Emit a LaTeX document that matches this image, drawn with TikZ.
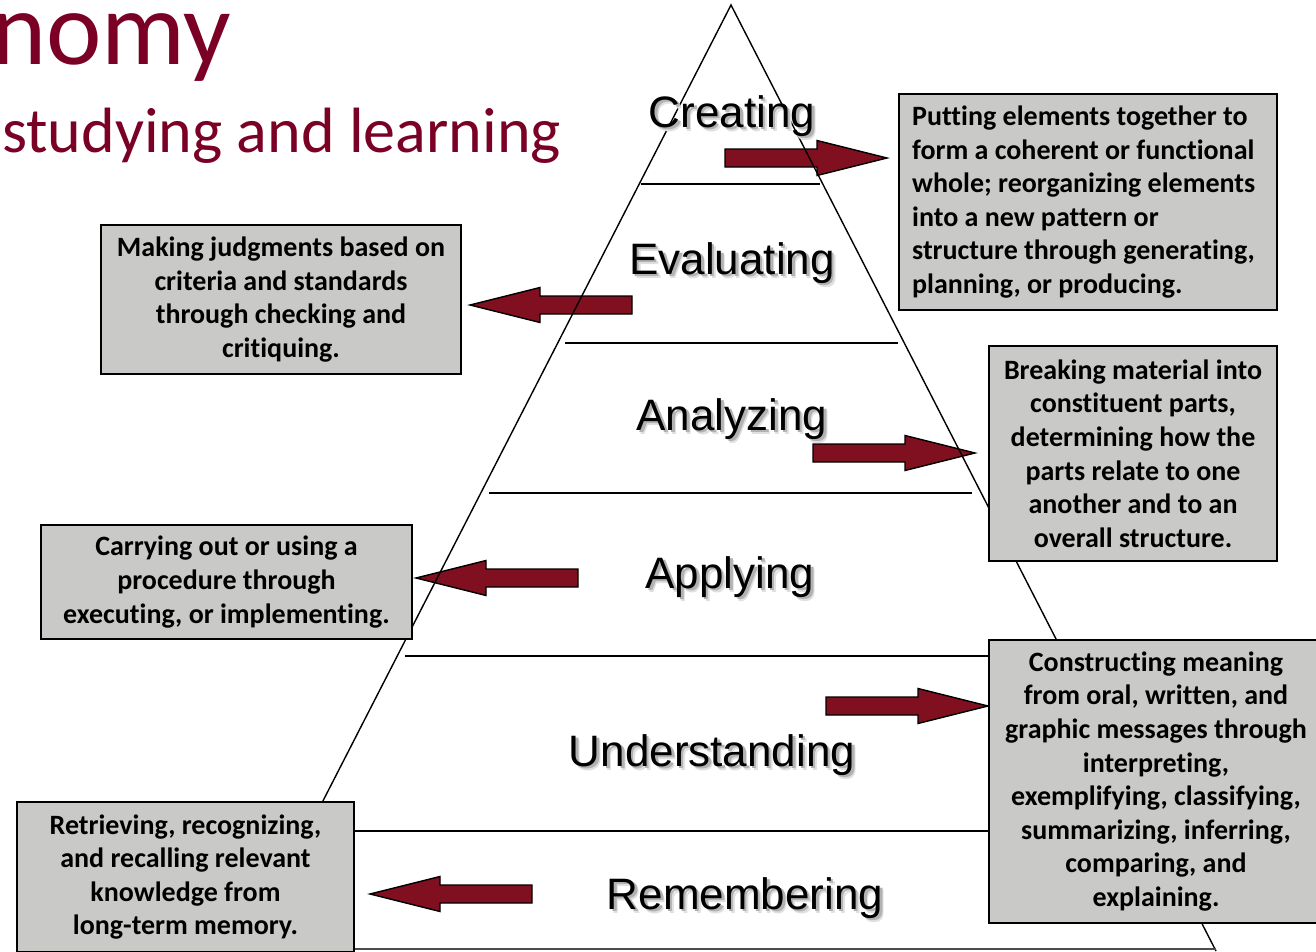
\documentclass[tikz,border=0pt]{standalone}
\usepackage{fontspec}
\setmainfont{Carlito}[Ligatures=NoCommon]
\newfontfamily\levelfont{Liberation Sans}
\definecolor{titlered}{RGB}{122,0,38}
\definecolor{arrowred}{RGB}{128,15,31}
\definecolor{boxgray}{RGB}{201,202,200}
\begin{document}
\begin{tikzpicture}[x=1pt,y=-1pt,
  edge/.style={line width=1.4pt, black},
  descbox/.style={draw=black, line width=1.6pt, fill=boxgray, inner xsep=0pt,
    inner ysep=0pt, font=\fontsize{28}{33.6}\selectfont\bfseries, align=center},
  level/.style={font=\levelfont\fontsize{44}{44}\selectfont, anchor=base, inner sep=0pt},
  levelshade/.style={level, text=black!30},
  levelhaze/.style={level, text=black!12},
  barrow/.pic={\draw[line width=1.4pt, fill=arrowred, line join=miter]
    (0,-9) -- (92,-9) -- (92,-17.5) -- (162,0) -- (92,17.5) -- (92,9) -- (0,9) -- cycle;}
]
\useasboundingbox (0,0) rectangle (1316,951);
\clip (0,0) rectangle (1316,951);
\fill[white] (0,0) rectangle (1316,951);

% title fragments
\node[anchor=base west, inner sep=0pt, font=\fontsize{105}{105}\selectfont, text=titlered] (title) at (-9,64) {nomy};
\node[anchor=base west, inner sep=0pt, font=\fontsize{64}{64}\selectfont, text=titlered] (subtitle) at (2,152) {studying and learning};

% block arrows pointing at the descriptions
\pic at (725,158) {barrow};
\pic[xscale=-1] at (632,305) {barrow};
\pic at (813,453) {barrow};
\pic[xscale=-1] at (578,578) {barrow};
\pic at (826,706) {barrow};
\pic[xscale=-1] at (532,894) {barrow};

% pyramid outline and level dividers
\coordinate (apex) at (731,5);
\coordinate (baseL) at (246,951);
\coordinate (baseR) at (1216,951);
\draw[edge] (baseL) -- (apex) -- (baseR);
\coordinate (d1a) at (641,184); \coordinate (d1b) at (820,184);
\coordinate (d2a) at (565,343); \coordinate (d2b) at (898,343);
\coordinate (d3a) at (489,493); \coordinate (d3b) at (972,493);
\coordinate (d4a) at (405,656); \coordinate (d4b) at (1064,656);
\coordinate (d5a) at (308,831); \coordinate (d5b) at (1155,831);
\coordinate (d6a) at (247,949); \coordinate (d6b) at (1216,949);
\draw[edge] (d1a) -- (d1b);
\draw[edge] (d2a) -- (d2b);
\draw[edge] (d3a) -- (d3b);
\draw[edge] (d4a) -- (d4b);
\draw[edge] (d5a) -- (d5b);
\draw[edge, black!70] (d6a) -- (d6b);

% level names with soft drop shadow
\foreach \nm/\x/\y/\t in {creating/732/127/Creating, evaluating/732/274/Evaluating,
    analyzing/732/430/Analyzing, applying/730/588/Applying,
    understanding/712/766/Understanding, remembering/745/909/Remembering}{
  \node[levelhaze] (\nm-haze) at (\x+4,\y+4) {\t};
  \node[levelshade] (\nm-shade) at (\x+2.5,\y+2.5) {\t};
  \node[level] (\nm) at (\x,\y) {\t};
}

% description boxes
\node[descbox, align=left, minimum width=378pt, minimum height=216pt] (createbox) at (1088,202)
  {Putting elements together to\\ form a coherent or functional\\ whole; reorganizing elements\\
   into a new pattern or\\ structure through generating,\rule{9pt}{0pt}\\ planning, or producing.};
\node[descbox, minimum width=360pt, minimum height=149pt] (evalbox) at (281,299.5)
  {Making judgments based on\\ criteria and standards\\ through checking and\\ critiquing.};
\node[descbox, minimum width=288pt, minimum height=215pt] (analyzebox) at (1133,453.5)
  {Breaking material into\\ constituent parts,\\ determining how the\\ parts relate to one\\ another and to an\\ overall structure.};
\node[descbox, minimum width=371pt, minimum height=114pt] (applybox) at (226.5,582)
  {Carrying out or using a\\ procedure through\\ executing, or implementing.};
\node[descbox, minimum width=334pt, minimum height=283pt] (understandbox) at (1156,781.5)
  {Constructing meaning\\ from oral, written, and\\ graphic messages through\\ interpreting,\\
   exemplifying, classifying,\\ summarizing, inferring,\\ comparing, and\\ explaining.};
\node[descbox, minimum width=337pt, minimum height=150pt] (rememberbox) at (185.5,877)
  {Retrieving, recognizing,\\ and recalling relevant\\ knowledge from\\ long-term memory.};
\end{tikzpicture}
\end{document}
